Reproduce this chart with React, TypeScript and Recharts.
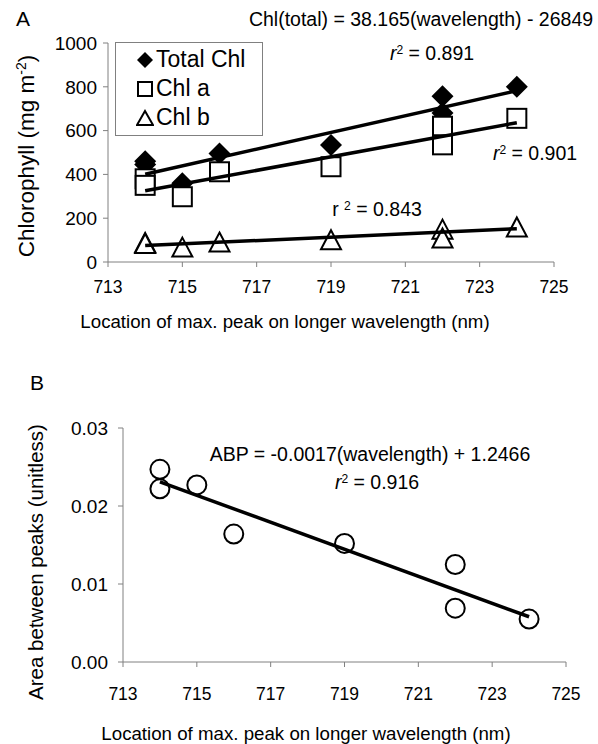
import React from "react";
import { ScatterChart, Scatter, XAxis, YAxis, Legend } from "recharts";

// wavelength of the longer red-edge peak for each sample (nm)
const sampleWavelength = [714, 714, 715, 716, 719, 722, 722, 724];
const wavelengthTicks = [713, 715, 717, 719, 721, 723, 725];

// chlorophyll content, mg m-2
const totalChl = [460, 445, 360, 495, 534, 757, 680, 800];
const chlA = [380, 350, 298, 412, 435, 620, 535, 656];
const chlB = [89, 85, 68, 91, 102, 150, 110, 160];
const chlTicks = [0, 200, 400, 600, 800, 1000];

// area between peaks (unitless)
const abp = [0.0247, 0.0222, 0.0227, 0.0164, 0.0152, 0.0125, 0.0069, 0.0055];
const abpTicks = [0, 0.01, 0.02, 0.03];

// regression line end points
const fitX = [714, 724];
const totalFit = [400.8, 782.5];
const chlAFit = [325, 636];
const chlBFit = [75, 152];
const abpFit = [0.0231, 0.0058];

const FONT = "Arial, 'Liberation Sans', sans-serif";
const AXIS = "#808080";

const pts = (xs: number[], ys: number[]) => xs.map((x, i) => ({ x, y: ys[i] }));

const Diamond = ({ cx, cy, r = 11 }: any) => (
  <polygon points={`${cx},${cy - r} ${cx + r},${cy} ${cx},${cy + r} ${cx - r},${cy}`} fill="#000" />
);
const Square = ({ cx, cy, s = 19 }: any) => (
  <rect x={cx - s / 2} y={cy - s / 2} width={s} height={s} fill="#fff" stroke="#000" strokeWidth={2} />
);
const Triangle = ({ cx, cy, w = 20, h = 19 }: any) => (
  <polygon
    points={`${cx},${cy - h / 2} ${cx + w / 2},${cy + h / 2} ${cx - w / 2},${cy + h / 2}`}
    fill="#fff"
    stroke="#000"
    strokeWidth={2}
    strokeLinejoin="miter"
  />
);
const Ring = ({ cx, cy }: any) => <circle cx={cx} cy={cy} r={9.5} fill="#fff" stroke="#000" strokeWidth={2} />;
const NoDot = () => <g />;

const legendItems = [
  { name: "Total Chl", icon: <Diamond cx={9} cy={9} r={8} /> },
  { name: "Chl a", icon: <Square cx={9} cy={9} s={14} /> },
  { name: "Chl b", icon: <Triangle cx={9} cy={9} w={16} h={14} /> },
];

const ChlLegend = () => (
  <div
    style={{
      border: `1px solid ${AXIS}`,
      background: "#fff",
      width: 148,
      height: 94,
      boxSizing: "border-box",
      padding: "2px 0 0 20px",
      fontFamily: FONT,
      fontSize: 23,
      lineHeight: "29px",
      textAlign: "left",
    }}
  >
    {legendItems.map((it) => (
      <div key={it.name} style={{ display: "flex", alignItems: "center", whiteSpace: "pre" }}>
        <svg width={18} height={18} style={{ marginRight: 2 }}>
          {it.icon}
        </svg>
        {it.name}
      </div>
    ))}
  </div>
);

const Txt = ({ x, y, size = 19.5, rotate = false, children }: any) => (
  <div
    style={{
      position: "absolute",
      left: x,
      top: y,
      transform: `translate(-50%, -50%)${rotate ? " rotate(-90deg)" : ""}`,
      whiteSpace: "nowrap",
      fontFamily: FONT,
      fontSize: size,
      lineHeight: 1,
      color: "#000",
    }}
  >
    {children}
  </div>
);

const sup = (t: string) => <sup style={{ fontSize: "0.62em", verticalAlign: "0.55em", lineHeight: 0 }}>{t}</sup>;

export default function App() {
  const xTick = { fill: "#000", fontSize: 17.5, fontFamily: FONT };
  const yTick = { fill: "#000", fontSize: 19, fontFamily: FONT };
  return (
    <div style={{ position: "absolute", left: 0, top: 0, width: 598, height: 744, background: "#fff" }}>
      {/* panel A */}
      <div style={{ position: "absolute", left: 0, top: 0 }}>
        <ScatterChart width={598} height={340} margin={{ top: 43, right: 44, bottom: 48, left: 48 }}>
          <XAxis
            type="number"
            dataKey="x"
            domain={[713, 725]}
            ticks={wavelengthTicks}
            stroke={AXIS}
            tick={xTick}
            tickSize={5}
            tickMargin={14}
            height={30}
          />
          <YAxis
            type="number"
            dataKey="y"
            domain={[0, 1000]}
            ticks={chlTicks}
            stroke={AXIS}
            tick={yTick}
            tickSize={5}
            tickMargin={6}
            width={60}
          />
          {/* floating legend: horizontal + middle keeps it from claiming plot space */}
          <Legend
            verticalAlign="middle"
            align="center"
            layout="horizontal"
            wrapperStyle={{ left: 115, top: 42, width: 148, height: 94 }}
            content={() => <ChlLegend />}
          />
          <Scatter name="Total Chl" data={pts(sampleWavelength, totalChl)} shape={Diamond} isAnimationActive={false} />
          <Scatter name="Chl a" data={pts(sampleWavelength, chlA)} shape={Square} isAnimationActive={false} />
          <Scatter name="Chl b" data={pts(sampleWavelength, chlB)} shape={Triangle} isAnimationActive={false} />
          {[totalFit, chlAFit, chlBFit].map((f, i) => (
            <Scatter
              key={i}
              data={pts(fitX, f)}
              line={{ stroke: "#000", strokeWidth: 3.5 }}
              shape={NoDot}
              legendType="none"
              isAnimationActive={false}
            />
          ))}
        </ScatterChart>
      </div>

      {/* panel B */}
      <div style={{ position: "absolute", left: 0, top: 340 }}>
        <ScatterChart width={598} height={404} margin={{ top: 88, right: 32, bottom: 52, left: 63 }}>
          <XAxis
            type="number"
            dataKey="x"
            domain={[713, 725]}
            ticks={wavelengthTicks}
            stroke={AXIS}
            tick={xTick}
            tickSize={5}
            tickMargin={21}
            height={30}
          />
          <YAxis
            type="number"
            dataKey="y"
            domain={[0, 0.03]}
            ticks={abpTicks}
            tickFormatter={(v: number) => v.toFixed(2)}
            stroke={AXIS}
            tick={yTick}
            tickSize={5}
            tickMargin={10}
            width={60}
          />
          <Scatter name="ABP" data={pts(sampleWavelength, abp)} shape={Ring} isAnimationActive={false} />
          <Scatter
            data={pts(fitX, abpFit)}
            line={{ stroke: "#000", strokeWidth: 3.5 }}
            shape={NoDot}
            legendType="none"
            isAnimationActive={false}
          />
        </ScatterChart>
      </div>

      {/* labels and annotations */}
      <Txt x={23} y={18} size={21}>A</Txt>
      <Txt x={37} y={382} size={21}>B</Txt>
      <Txt x={27} y={156} size={22.5} rotate>
        Chlorophyll (mg m{sup("-2")})
      </Txt>
      <Txt x={36} y={562} size={20.5} rotate>
        Area between peaks (unitless)
      </Txt>
      <Txt x={285} y={322} size={18.7}>Location of max. peak on longer wavelength (nm)</Txt>
      <Txt x={306} y={734} size={18.7}>Location of max. peak on longer wavelength (nm)</Txt>

      <Txt x={421} y={20}>Chl(total) = 38.165(wavelength) - 26849</Txt>
      <Txt x={432} y={54}>
        <i>r</i>
        {sup("2")} = 0.891
      </Txt>
      <Txt x={535} y={154}>
        <i>r</i>
        {sup("2")} = 0.901
      </Txt>
      <Txt x={377} y={210}>
        r {sup("2")} = 0.843
      </Txt>
      <Txt x={370} y={455}>ABP = -0.0017(wavelength) + 1.2466</Txt>
      <Txt x={377} y={483}>
        <i>r</i>
        {sup("2")} = 0.916
      </Txt>
    </div>
  );
}
